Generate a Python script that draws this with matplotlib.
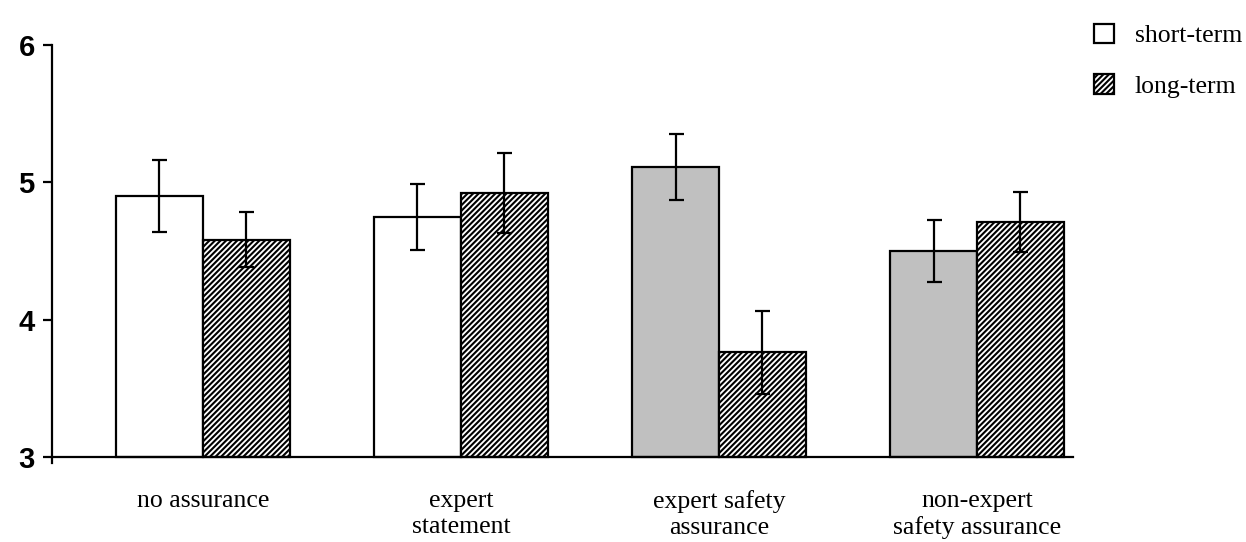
import matplotlib
matplotlib.use('Agg')
import matplotlib.pyplot as plt
from matplotlib.patches import Patch
import numpy as np

# ------------------ Data ------------------
categories = ['no assurance', 'expert\nstatement', 'expert safety\nassurance',
              'non-expert\nsafety assurance']
short_term = [4.90, 4.75, 5.11, 4.50]
short_err = [0.26, 0.24, 0.24, 0.225]
long_term = [4.58, 4.92, 3.76, 4.71]
long_err = [0.20, 0.29, 0.30, 0.22]
short_colors = ['white', 'white', '#C0C0C0', '#C0C0C0']
yticks = [3, 4, 5, 6]
base = 3

plt.rcParams['hatch.linewidth'] = 1.5
plt.rcParams['hatch.color'] = 'black'

fig = plt.figure(figsize=(12.46, 5.42), dpi=100)
ax = fig.add_axes([52 / 1246, 1 - 463 / 542, (1073 - 52) / 1246, (463 - 45) / 542])

xpos = np.arange(len(categories))
w = 0.337

ax.bar(xpos - w / 2, np.array(short_term) - base, w, bottom=base, color=short_colors,
       edgecolor='black', linewidth=1.6, zorder=2)
ax.bar(xpos + w / 2, np.array(long_term) - base, w, bottom=base, color='white',
       hatch='//////', edgecolor='black', linewidth=1.6, zorder=2)

err_kw = dict(fmt='none', ecolor='black', elinewidth=1.6, capsize=5.4, capthick=1.6, zorder=3)
ax.errorbar(xpos - w / 2, short_term, yerr=short_err, **err_kw)
ax.errorbar(xpos + w / 2, long_term, yerr=long_err, **err_kw)

ax.set_xlim(-0.585, 3.372)
ax.set_ylim(2.955, 6)
ax.spines['top'].set_visible(False)
ax.spines['right'].set_visible(False)
ax.spines['bottom'].set_position(('data', 3))
ax.spines['bottom'].set_linewidth(1.6)
ax.spines['left'].set_linewidth(1.6)
ax.spines['left'].set_bounds(2.955, 6)

ax.set_yticks(yticks)
ax.set_yticklabels([str(t) for t in yticks], fontfamily='Liberation Sans',
                   fontweight='bold', fontsize=21)
ax.tick_params(axis='y', length=6.5, width=1.6, pad=6)

ax.set_xticks(xpos)
ax.set_xticklabels(categories, fontfamily='Liberation Serif', fontsize=18.5,
                   linespacing=1.2)
ax.tick_params(axis='x', length=0, pad=24)

# legend (white box for short-term, hatched for long-term)
handles = [Patch(facecolor='white', edgecolor='black', linewidth=1.6),
           Patch(facecolor='white', edgecolor='black', hatch='//////', linewidth=1.6)]
fig.legend(handles, ['short-term', 'long-term'], loc='upper left',
           bbox_to_anchor=(1086 / 1246, 1 - 16 / 542), frameon=False,
           prop={'family': 'Liberation Serif', 'size': 18.5},
           handlelength=0.8, handleheight=0.8, labelspacing=1.05, handletextpad=0.8,
           borderaxespad=0, borderpad=0.3)

fig.savefig('out.png', dpi=100)
